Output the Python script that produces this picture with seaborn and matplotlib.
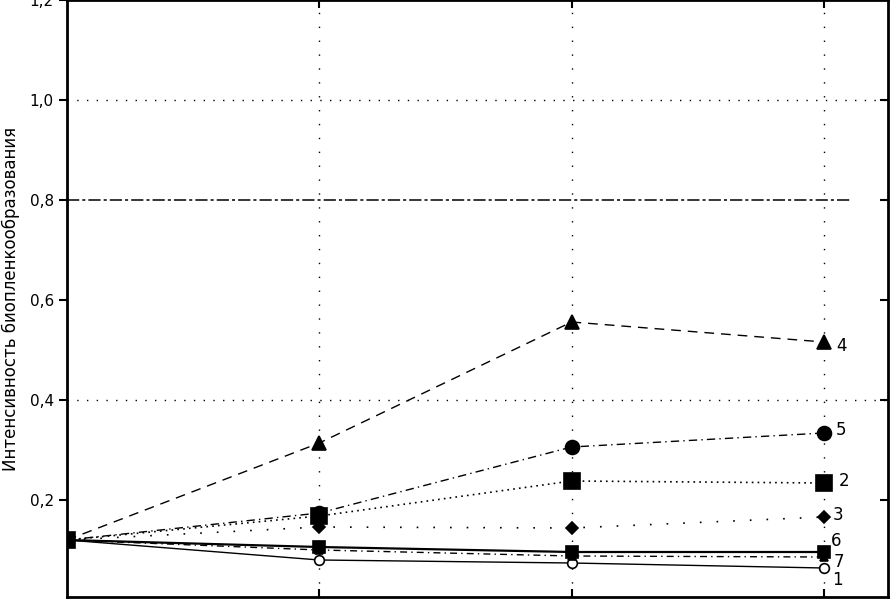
import seaborn as sns
import matplotlib.pyplot as plt
import pandas as pd
from matplotlib.ticker import FuncFormatter

# точки времени (без подписей на оси X)
x_points = [0, 1, 2, 3]

# интенсивность биопленкообразования для 7 кривых
s1 = [0.12, 0.080, 0.074, 0.064]
s2 = [0.12, 0.168, 0.238, 0.234]
s3 = [0.12, 0.146, 0.144, 0.166]
s4 = [0.12, 0.314, 0.556, 0.516]
s5 = [0.12, 0.174, 0.306, 0.334]
s6 = [0.12, 0.106, 0.096, 0.096]
s7 = [0.12, 0.100, 0.088, 0.086]

series_names = ['1', '2', '3', '4', '5', '6', '7']
series_values = [s1, s2, s3, s4, s5, s6, s7]

threshold = 0.8
grid_y = [0.4, 1.0]
y_ticks = [0.2, 0.4, 0.6, 0.8, 1.0, 1.2]

# стиль каждой кривой: маркер, размер, заливка, штрихи, толщина, смещение подписи (px)
styles = {
    '1': dict(marker='o', ms=7, mfc='white', dashes=None, lw=1.0, off=(14, -12)),
    '2': dict(marker='s', ms=11, mfc='black', dashes=(1, 2.5), lw=1.2, off=(20, 2)),
    '3': dict(marker='D', ms=6, mfc='black', dashes=(1, 9), lw=1.2, off=(14, 2)),
    '4': dict(marker='^', ms=10, mfc='black', dashes=(7, 5), lw=1.0, off=(18, -4)),
    '5': dict(marker='o', ms=10, mfc='black', dashes=(6, 3, 1, 3), lw=1.0, off=(17, 3)),
    '6': dict(marker='s', ms=8, mfc='black', dashes=None, lw=1.6, off=(12, 11)),
    '7': dict(marker='^', ms=6, mfc='black', dashes=(5, 3, 1, 3), lw=1.0, off=(15, -5)),
}

df = pd.DataFrame({'x': x_points * len(series_names),
                   'y': sum(series_values, []),
                   'серия': [n for n in series_names for _ in x_points]})

sns.set_style('ticks')
plt.rcParams['font.family'] = ['DejaVu Sans']
plt.rcParams['text.color'] = 'black'
plt.rcParams['axes.labelcolor'] = 'black'
plt.rcParams['ytick.color'] = 'black'
plt.rcParams['xtick.color'] = 'black'

fig = plt.figure(figsize=(8.9, 6), dpi=100)
ax = fig.add_axes([67 / 890, 3 / 600, (888 - 67) / 890, 597 / 600])

# сетка и пороговая линия
for gx in x_points[1:]:
    ax.axvline(gx, color='black', lw=1.0, dashes=(1, 9), zorder=1)
for gy in grid_y:
    ax.axhline(gy, color='black', lw=1.0, dashes=(1, 6), zorder=1)
ax.axhline(threshold, xmin=0, xmax=0.954, color='black', lw=1.1, dashes=(8, 2, 2, 2), zorder=1)

for name in series_names:
    st = styles[name]
    d = df[df['серия'] == name]
    sns.lineplot(data=d, x='x', y='y', ax=ax, color='black', lw=st['lw'],
                 marker=st['marker'], markersize=st['ms'], markerfacecolor=st['mfc'],
                 markeredgecolor='black', markeredgewidth=1.2, zorder=3)
    if st['dashes'] is not None:
        ax.lines[-1].set_dashes(st['dashes'])
    ax.annotate(name, (d['x'].iloc[-1], d['y'].iloc[-1]), xytext=st['off'],
                textcoords='offset pixels', ha='center', va='center', fontsize=12)

ax.set_xlim(0, 3.254)
ax.set_ylim(0.006, 1.2)
ax.set_yticks(y_ticks)
ax.yaxis.set_major_formatter(FuncFormatter(lambda v, p: f'{v:.1f}'.replace('.', ',')))
ax.set_xticks(x_points[1:])
ax.set_xticklabels([])
ax.set_xlabel('')
ax.set_ylabel('Интенсивность биопленкообразования', fontsize=12, labelpad=7)

ax.tick_params(axis='y', which='both', left=True, right=True, direction='out', length=6,
               width=1.5, labelsize=11)
ax.tick_params(axis='x', top=True, bottom=True, direction='in', length=6, width=1.5)
for t in ax.yaxis.get_major_ticks():
    t.tick2line.set_marker(0)  # правые засечки внутрь
for sp in ax.spines.values():
    sp.set_linewidth(2)
    sp.set_color('black')

fig.savefig('out.png', dpi=100)
